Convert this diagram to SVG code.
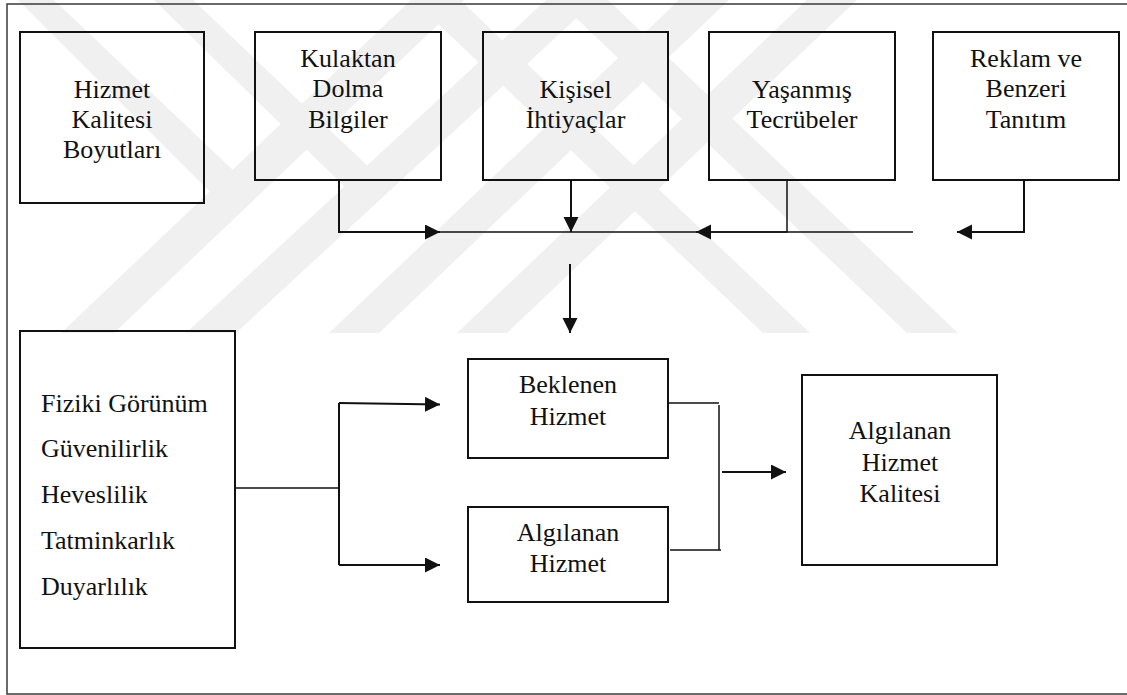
<svg xmlns="http://www.w3.org/2000/svg" width="1127" height="695" viewBox="0 0 1127 695">
<style>
.box{fill:none;stroke:#111;stroke-width:2}
.t{text-anchor:middle}
.tl{text-anchor:start}
.c{fill:none;stroke:#111;stroke-width:2}
.thin{fill:none;stroke:#111;stroke-width:1.5}
.wm{fill:#f0f0f0}
</style>
<defs>
<marker id="ah" markerUnits="userSpaceOnUse" markerWidth="16" markerHeight="16" refX="15" refY="7.5" orient="auto">
<path d="M0,0 L15,7.5 L0,15 z" fill="#111"/>
</marker>
</defs>
<rect width="1127" height="695" fill="#ffffff"/>
<g id="watermark">
<polygon class="wm" points="411,0 464,0 114,333 61,333"/>
<polygon class="wm" points="546,0 596,0 236,333 186,333"/>
<polygon class="wm" points="679,0 729,0 379,333 329,333"/>
<polygon class="wm" points="807,0 857,0 507,333 457,333"/>
<polygon class="wm" points="413,0 460,0 810,333 763,333"/>
<polygon class="wm" points="557,0 608,0 958,333 907,333"/>
<polygon class="wm" points="18,0 54,0 238,175 216,198"/>
<polygon class="wm" points="154,0 193,0 372,170 350,192"/>
</g>
<rect id="frame" x="7" y="4" width="1130" height="690" fill="none" stroke="#3a3a3a" stroke-width="1.5"/>
<g id="nodes" font-family="Liberation Serif, Times New Roman, Tinos, DejaVu Serif, serif" font-size="26" fill="#111">
<g id="n-boyutlar">
<rect class="box" x="20" y="32" width="184" height="171"/>
<text class="t" x="112" y="98">Hizmet</text>
<text class="t" x="112" y="128">Kalitesi</text>
<text class="t" x="112" y="158">Boyutları</text>
</g>
<g id="n-kulaktan">
<rect class="box" x="255" y="32" width="186" height="148"/>
<text class="t" x="348" y="67">Kulaktan</text>
<text class="t" x="348" y="97">Dolma</text>
<text class="t" x="348" y="128">Bilgiler</text>
</g>
<g id="n-kisisel">
<rect class="box" x="483" y="32" width="185" height="148"/>
<text class="t" x="575.5" y="98">Kişisel</text>
<text class="t" x="575.5" y="128">İhtiyaçlar</text>
</g>
<g id="n-yasanmis">
<rect class="box" x="709" y="32" width="186" height="148"/>
<text class="t" x="802" y="98">Yaşanmış</text>
<text class="t" x="802" y="128">Tecrübeler</text>
</g>
<g id="n-reklam">
<rect class="box" x="933" y="32" width="186" height="148"/>
<text class="t" x="1026" y="67">Reklam ve</text>
<text class="t" x="1026" y="97">Benzeri</text>
<text class="t" x="1026" y="128">Tanıtım</text>
</g>
<g id="n-boyutlar-liste">
<rect class="box" x="20" y="331" width="215" height="317"/>
<text class="tl" x="41" y="412">Fiziki Görünüm</text>
<text class="tl" x="41" y="457">Güvenilirlik</text>
<text class="tl" x="41" y="503">Heveslilik</text>
<text class="tl" x="41" y="549">Tatminkarlık</text>
<text class="tl" x="41" y="595">Duyarlılık</text>
</g>
<g id="n-beklenen">
<rect class="box" x="468" y="359" width="200" height="99"/>
<text class="t" x="568" y="393">Beklenen</text>
<text class="t" x="568" y="425">Hizmet</text>
</g>
<g id="n-algilanan">
<rect class="box" x="468" y="507" width="200" height="95"/>
<text class="t" x="568" y="541">Algılanan</text>
<text class="t" x="568" y="572">Hizmet</text>
</g>
<g id="n-kalite">
<rect class="box" x="802" y="375" width="195" height="190"/>
<text class="t" x="900" y="439">Algılanan</text>
<text class="t" x="900" y="471">Hizmet</text>
<text class="t" x="900" y="502">Kalitesi</text>
</g>
</g>
<g id="connectors">
<path class="thin" d="M440,232 H913"/>
<path class="c" d="M339,180 V232 H440" marker-end="url(#ah)"/>
<path class="c" d="M571,180 V232" marker-end="url(#ah)"/>
<path class="thin" d="M787,180 V232 H696" marker-end="url(#ah)"/>
<path class="c" d="M1024,180 V232 H957" marker-end="url(#ah)"/>
<path class="c" d="M570,264 V333" marker-end="url(#ah)"/>
<path class="thin" d="M235,488 H339"/>
<path class="c" d="M339,403 V565"/>
<path class="c" d="M339,403 L440,404.5" marker-end="url(#ah)"/>
<path class="c" d="M339,565 H440" marker-end="url(#ah)"/>
<path class="thin" d="M668,403 H719 M719,405 V550 M670,550 H721"/>
<path class="c" d="M722,472 H786" marker-end="url(#ah)"/>
</g>
</svg>
